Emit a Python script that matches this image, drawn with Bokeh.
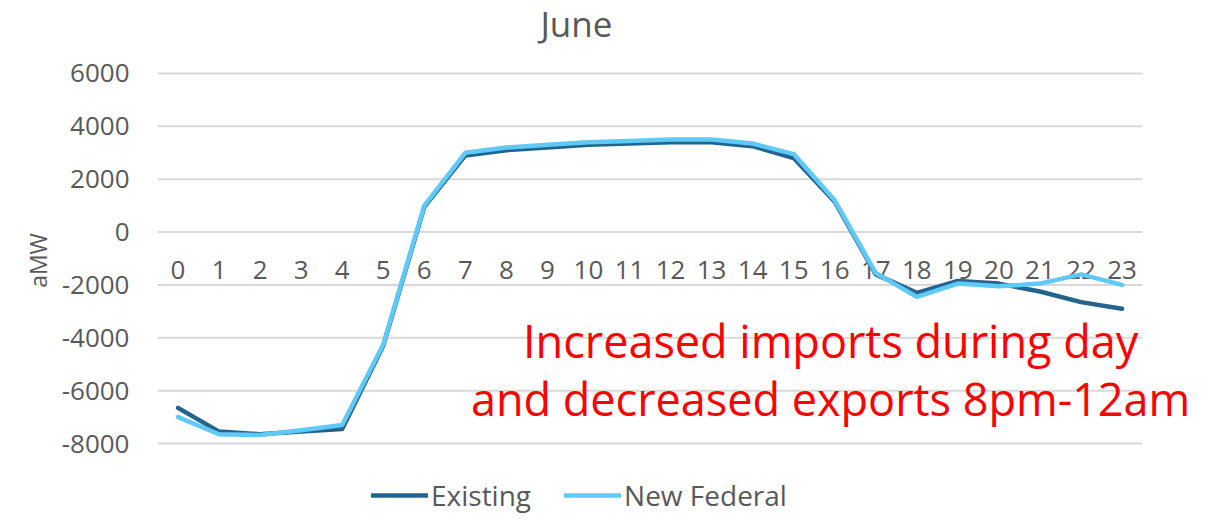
from bokeh.plotting import figure
from bokeh.models import Range1d, FixedTicker, Legend, LegendItem, Label, ColumnDataSource, PrintfTickFormatter
from bokeh.core.properties import value
from bokeh.embed import file_html
from bokeh.resources import INLINE

# Hourly net interchange for June (aMW)
hours = list(range(24))
hour_labels = [str(h) for h in hours]
existing = [-6650, -7550, -7650, -7550, -7450, -4300, 950, 2900, 3100, 3200, 3300, 3350,
            3400, 3400, 3250, 2800, 1150, -1600, -2300, -1850, -1950, -2250, -2650, -2900]
new_federal = [-7000, -7650, -7680, -7500, -7300, -4250, 1000, 3000, 3200, 3300, 3400, 3450,
               3500, 3500, 3350, 2950, 1200, -1550, -2450, -1950, -2050, -1950, -1600, -2000]
y_ticks = [-8000, -6000, -4000, -2000, 0, 2000, 4000, 6000]

FONT = "Open Sans"
GREY = "#595959"
DARK = "#23648F"
LIGHT = "#5FC9F8"

# the frame covers the whole canvas right of the value axis, so the title,
# legend and callout text can be placed freely around the plotted hours
x_lo, x_hi = -0.5, len(hours) - 0.5
p = figure(width=1211, height=520, output_backend="svg", toolbar_location=None,
           title=None, x_axis_location=None,
           x_range=Range1d(x_lo, 25.18), y_range=Range1d(-10913, 8762),
           min_border_left=157, min_border_right=0, min_border_top=0, min_border_bottom=0)
p.outline_line_color = None
p.background_fill_color = "white"
p.border_fill_color = "white"

# value axis
p.yaxis.ticker = FixedTicker(ticks=y_ticks)
p.yaxis.formatter = PrintfTickFormatter(format="%d")
p.yaxis.axis_line_color = None
p.yaxis.major_tick_line_color = None
p.yaxis.minor_tick_line_color = None
p.yaxis.major_label_text_font = FONT
p.yaxis.major_label_text_font_size = "26px"
p.yaxis.major_label_text_color = GREY
p.yaxis.major_label_standoff = 22
p.yaxis.axis_label = "aMW"
p.yaxis.axis_label_text_font = FONT
p.yaxis.axis_label_text_font_size = "23px"
p.yaxis.axis_label_text_font_style = "normal"
p.yaxis.axis_label_text_color = GREY
p.yaxis.axis_label_standoff = 5

p.xgrid.grid_line_color = None
p.ygrid.grid_line_color = None

# horizontal gridlines across the hour span only
p.segment(x0=x_lo, x1=x_hi, y0=y_ticks, y1=y_ticks, line_color="#d9d9d9", line_width=2)

# hour labels sit just below the zero line
lab_src = ColumnDataSource(dict(x=hours, y=[0] * len(hours), t=hour_labels))
p.text(x="x", y="y", text="t", source=lab_src, text_font=value(FONT),
       text_font_size="26px", text_color=GREY, text_align="center",
       text_baseline="middle", y_offset=38)

src = ColumnDataSource(dict(h=hours, ex=existing, nf=new_federal))
r_ex = p.line("h", "ex", source=src, line_color=DARK, line_width=4.5,
              line_join="round", line_cap="round")
r_nf = p.line("h", "nf", source=src, line_color=LIGHT, line_width=4.5,
              line_join="round", line_cap="round")

# chart title
p.add_layout(Label(x=9.73, y=7900, text="June", text_align="left",
                   text_baseline="middle", text_font=FONT, text_font_size="35px",
                   text_line_height=1.0, text_color=GREY, x_offset=-37))

legend = Legend(items=[LegendItem(label="Existing", renderers=[r_ex]),
                       LegendItem(label="New Federal", renderers=[r_nf])],
                orientation="horizontal", location=(214, 6),
                glyph_width=57, glyph_height=20, label_standoff=3, spacing=33,
                padding=0, margin=0, border_line_color=None, background_fill_alpha=0,
                label_text_font=FONT, label_text_font_size="28px",
                label_text_color=GREY)
p.add_layout(legend)

for txt, yv in [("Increased imports during day", -4102),
                ("and decreased exports 8pm-12am", -6296)]:
    p.add_layout(Label(x=15.9, y=yv, text=txt, text_align="center",
                       text_baseline="middle", text_font=FONT,
                       text_font_size="45px", text_color="red"))

open("out.html", "w").write(file_html(p, INLINE))
